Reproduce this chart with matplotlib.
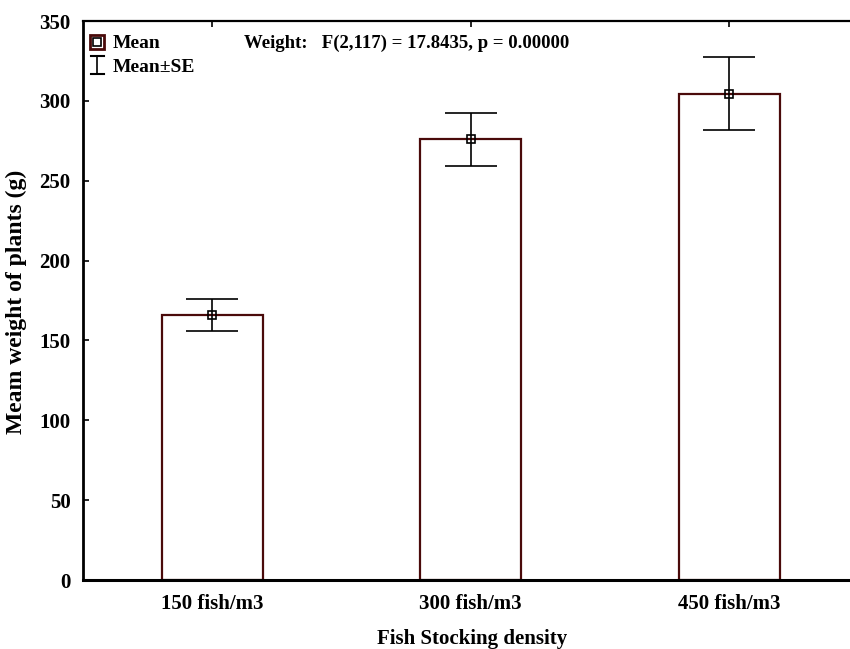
import matplotlib
matplotlib.use("Agg")
import matplotlib.pyplot as plt
from matplotlib.patches import Rectangle
from matplotlib.lines import Line2D

categories = ["150 fish/m3", "300 fish/m3", "450 fish/m3"]
means = [166, 276, 304.5]
se = [10, 16.5, 23]
yticks = [0, 50, 100, 150, 200, 250, 300, 350]
stat_text = "Weight:   F(2,117) = 17.8435, p = 0.00000"

plt.rcParams['font.family'] = ['Liberation Serif', 'DejaVu Serif']
plt.rcParams['font.weight'] = 'bold'

W, H = 850, 649
AX_L, AX_R, AX_T, AX_B = 83, 858.5, 21, 580
fig = plt.figure(figsize=(W / 100, H / 100), dpi=100)
ax = fig.add_axes([AX_L / W, 1 - AX_B / H, (AX_R - AX_L) / W, (AX_B - AX_T) / H])

x = list(range(len(categories)))
dark_red = "#4a0a0a"
ax.bar(x, means, width=0.39, facecolor="white", edgecolor=dark_red, linewidth=1.6, zorder=2)
ax.errorbar(x, means, yerr=se, fmt='s', color='black', ecolor='black', elinewidth=1.2,
            capsize=18.5, capthick=1.6, markersize=6, markerfacecolor='none',
            markeredgecolor='black', markeredgewidth=1.2, zorder=3)

ax.set_xlim(-0.5, 2.5)
ax.set_ylim(0, 350)
ax.set_yticks(yticks)
ax.set_xticks(x)
ax.set_xticklabels(categories, fontsize=15, fontweight='bold')
ax.tick_params(axis='y', labelsize=15, direction='in', length=4, width=1.2, pad=9)
ax.tick_params(axis='x', direction='in', length=4, width=1.2, pad=10, top=True)
for lab in ax.get_yticklabels():
    lab.set_fontweight('bold')

ax.spines['right'].set_visible(False)
ax.spines['left'].set_linewidth(2)
ax.spines['bottom'].set_linewidth(2.2)
ax.spines['top'].set_linewidth(1.6)


def ax_xy(px, py):
    return ((px - AX_L) / (AX_R - AX_L), (AX_B - py) / (AX_B - AX_T))


ax.set_ylabel("Meam weight of plants (g)", fontsize=17, fontweight='bold')
lx, ly = ax_xy(27, 302)
ax.yaxis.set_label_coords(lx, ly)
ax.set_xlabel("Fish Stocking density", fontsize=15, fontweight='bold', va='top')
xx, xy = ax_xy(472, 629)
ax.xaxis.set_label_coords(xx, xy)

# legend (drawn in pixel-based axes coordinates)
tr = ax.transAxes
x0, y0 = ax_xy(90, 49)
x1, y1 = ax_xy(104, 35)
ax.add_patch(Rectangle((x0, y0), x1 - x0, y1 - y0, transform=tr, facecolor='white',
                       edgecolor=dark_red, linewidth=2, clip_on=False, zorder=5))
cx, cy = ax_xy(97, 42)
ax.add_line(Line2D([cx], [cy], marker='s', markersize=5.5, markerfacecolor='none',
                   markeredgecolor='black', markeredgewidth=1.2, transform=tr, zorder=6))
tx, ty = ax_xy(113, 43)
ax.text(tx, ty, "Mean", transform=tr, fontsize=14, fontweight='bold', va='center', ha='left')
ex, et = ax_xy(97, 56)
_, eb = ax_xy(97, 74)
exl, _ = ax_xy(91, 56)
exr, _ = ax_xy(104, 56)
ax.add_line(Line2D([ex, ex], [et, eb], color='black', linewidth=1.2, transform=tr))
ax.add_line(Line2D([exl, exr], [et, et], color='black', linewidth=1.5, transform=tr))
ax.add_line(Line2D([exl, exr], [eb, eb], color='black', linewidth=1.5, transform=tr))
tx2, ty2 = ax_xy(113, 67)
ax.text(tx2, ty2, "Mean\u00b1SE", transform=tr, fontsize=14, fontweight='bold', va='center', ha='left')

sx, sy = ax_xy(244, 43)
ax.text(sx, sy, stat_text, transform=tr, fontsize=13.5, fontweight='bold', va='center', ha='left')

fig.savefig("out.png", dpi=100)
